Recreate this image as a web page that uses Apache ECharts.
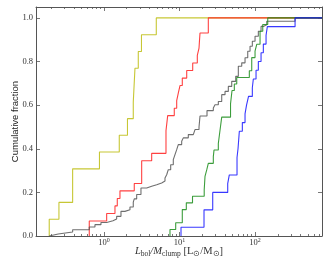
<!DOCTYPE html>
<html>
<head>
<meta charset="utf-8">
<script src="https://cdn.jsdelivr.net/npm/echarts@6/dist/echarts.min.js"></script>
<style>html,body{margin:0;padding:0;background:#fff;}#c{width:332px;height:258px;}</style>
</head>
<body>
<div id="c"></div>
<script>
// ---- data (L_bol/M_clump at each step, cumulative fraction after the step)
const yellowX = [0.1886, 0.2535, 0.3849, 0.872, 1.595, 2.048, 2.444, 2.574, 2.847, 3.138, 4.929];
const yellowY = [0.077, 0.154, 0.308, 0.385, 0.462, 0.538, 0.615, 0.769, 0.846, 0.923, 1.0];

const redX = [0.639, 1.086, 1.399, 1.501, 1.629, 2.519, 3.157, 4.283, 6.625, 6.978, 8.53, 9.18, 9.64, 10.15, 10.89, 12.46, 14.96, 17.21, 18.13, 18.40, 18.69, 24.07];
const redY = [0.069, 0.103, 0.138, 0.172, 0.207, 0.241, 0.345, 0.379, 0.483, 0.552, 0.586, 0.621, 0.655, 0.690, 0.724, 0.759, 0.793, 0.828, 0.862, 0.897, 0.931, 1.0];

const grayX = [0.1886, 0.2481, 0.3849, 0.6388, 0.7601, 0.9125, 1.086, 1.316, 1.473, 1.680, 1.897, 2.210, 2.444, 2.519, 2.711, 3.090, 3.678, 4.283, 4.989, 5.809, 6.427, 6.769, 7.107, 7.646, 8.277, 8.717, 9.182, 9.640, 10.69, 11.23, 13.08, 15.23, 16.05, 18.13, 18.69, 23.13, 28.04, 29.53, 32.66, 36.22, 40.06, 44.30, 49.13, 55.52, 60.09, 66.66, 73.72, 80.04, 85.86, 92.09, 100.0, 110.6, 120.1, 128.8, 142.9, 338.8];
const grayY = [0.009, 0.018, 0.029, 0.041, 0.052, 0.062, 0.070, 0.078, 0.090, 0.113, 0.120, 0.133, 0.155, 0.170, 0.190, 0.220, 0.228, 0.235, 0.243, 0.252, 0.266, 0.281, 0.304, 0.327, 0.350, 0.373, 0.396, 0.419, 0.434, 0.450, 0.465, 0.472, 0.488, 0.500, 0.550, 0.575, 0.587, 0.602, 0.617, 0.648, 0.663, 0.686, 0.709, 0.732, 0.778, 0.794, 0.817, 0.847, 0.870, 0.893, 0.916, 0.939, 0.961, 0.969, 0.985, 1.0];

const greenX = [7.483, 8.906, 10.89, 12.31, 14.87, 21.24, 21.76, 22.93, 24.07, 28.04, 28.64, 32.66, 34.39, 36.22, 47.37, 49.59, 53.19, 57.24, 84.05, 90.44, 100, 105.3, 116.5, 126.5, 147.3];
const greenY = [0.030, 0.061, 0.121, 0.152, 0.182, 0.212, 0.273, 0.303, 0.333, 0.364, 0.394, 0.424, 0.485, 0.545, 0.606, 0.667, 0.697, 0.727, 0.758, 0.818, 0.848, 0.879, 0.939, 0.970, 1.0];

const blueX = [10.47, 21.11, 27.53, 43.48, 45.65, 57.75, 59.53, 61.96, 67.91, 73.72, 77.18, 82.02, 92.09, 94.95, 103.1, 110.6, 120.1, 128.8, 139.9, 145.5, 338.8];
const blueY = [0.04, 0.12, 0.20, 0.24, 0.28, 0.36, 0.40, 0.48, 0.52, 0.56, 0.60, 0.64, 0.68, 0.72, 0.76, 0.80, 0.84, 0.88, 0.92, 0.96, 1.0];

const xMin = 0.126, xMax = 770;
const xMajorTicks = [1, 10, 100];
const xMinorTicks = [0.2, 0.3, 0.4, 0.5, 0.6, 0.7, 0.8, 0.9, 2, 3, 4, 5, 6, 7, 8, 9, 20, 30, 40, 50, 60, 70, 80, 90, 200, 300, 400, 500, 600, 700];
const yTicks = [0, 0.2, 0.4, 0.6, 0.8, 1.0];

function ecdf(xs, ys) {
  const d = [[xs[0], 0]];
  xs.forEach((x, i) => d.push([x, ys[i]]));
  d.push([xMax, 1]);
  return d;
}

const frame = '#555';
const serif = 'Liberation Serif';

function xAxisDef(pos, ticks, len, showLine, showLabel) {
  return {
    type: 'log', logBase: 10, min: xMin, max: xMax, position: pos,
    axisLine: { show: showLine, lineStyle: { color: frame, width: 1 } },
    axisTick: { show: true, inside: true, length: len, customValues: ticks, lineStyle: { color: frame, width: 0.8 } },
    axisLabel: showLabel ? {
      show: true, customValues: xMajorTicks, margin: 1,
      formatter: v => '{b|10}{s|' + Math.round(Math.log10(v)) + '}',
      rich: {
        b: { fontFamily: serif, fontSize: 8.5, color: '#333', lineHeight: 12 },
        s: { fontFamily: serif, fontSize: 6, color: '#333', lineHeight: 12, verticalAlign: 'top' }
      }
    } : { show: false },
    splitLine: { show: false }, minorTick: { show: false }, minorSplitLine: { show: false }
  };
}

const xa0 = xAxisDef('bottom', xMajorTicks, 4, true, true);
xa0.name = '{i|L}{sub|bol}{i|/M}{sub|clump}{r| [L}{sub|⊙}{r|/M}{sub|⊙}{r|]}';
xa0.nameLocation = 'middle';
xa0.nameGap = 9;
xa0.nameMoveOverlap = false;
xa0.nameTextStyle = {
  rich: {
    i: { fontFamily: serif, fontStyle: 'italic', fontSize: 10.5, color: '#333', lineHeight: 12 },
    r: { fontFamily: serif, fontSize: 10.5, color: '#333', lineHeight: 12 },
    sub: { fontFamily: serif, fontSize: 7.5, color: '#333', lineHeight: 12, verticalAlign: 'top', padding: [5, 0, 0, 0] }
  }
};

function yAxisDef(pos, showLabel) {
  return {
    type: 'value', min: 0, max: 1.05, position: pos,
    axisLine: { show: true, lineStyle: { color: frame, width: 1 } },
    axisTick: { show: true, inside: true, length: 4, customValues: yTicks, lineStyle: { color: frame, width: 0.8 } },
    axisLabel: showLabel ? {
      show: true, customValues: yTicks, margin: 3,
      formatter: v => v.toFixed(1),
      fontFamily: serif, fontSize: 8.5, color: '#333'
    } : { show: false },
    splitLine: { show: false }
  };
}
const ya0 = yAxisDef('left', true);
ya0.name = 'Cumulative fraction';
ya0.nameLocation = 'middle';
ya0.nameGap = 16;
ya0.nameMoveOverlap = false;
ya0.nameTextStyle = { fontFamily: 'Liberation Sans', fontSize: 9.5, color: '#222' };

const chart = echarts.init(document.getElementById('c'), null, { renderer: 'canvas' });
const mkSeries = (name, xs, ys, color) => ({
  name, type: 'line', step: 'end', xAxisIndex: 0, yAxisIndex: 0,
  data: ecdf(xs, ys), showSymbol: false, symbol: 'none',
  lineStyle: { color, width: 1.1, opacity: 0.85 }, clip: true
});
chart.setOption({
  animation: false,
  grid: { left: 36, right: 10, top: 7, bottom: 22, containLabel: false, outerBoundsMode: 'none' },
  xAxis: [
    xa0,
    xAxisDef('bottom', xMinorTicks, 2, false, false),
    xAxisDef('top', xMajorTicks, 4, true, false),
    xAxisDef('top', xMinorTicks, 2, false, false)
  ],
  yAxis: [ya0, yAxisDef('right', false)],
  series: [
    mkSeries('yellow', yellowX, yellowY, '#bdbd12'),
    mkSeries('red', redX, redY, '#ff2020'),
    mkSeries('gray', grayX, grayY, '#555555'),
    mkSeries('green', greenX, greenY, '#1a8c1a'),
    mkSeries('blue', blueX, blueY, '#1515ff')
  ]
});
</script>
</body>
</html>
